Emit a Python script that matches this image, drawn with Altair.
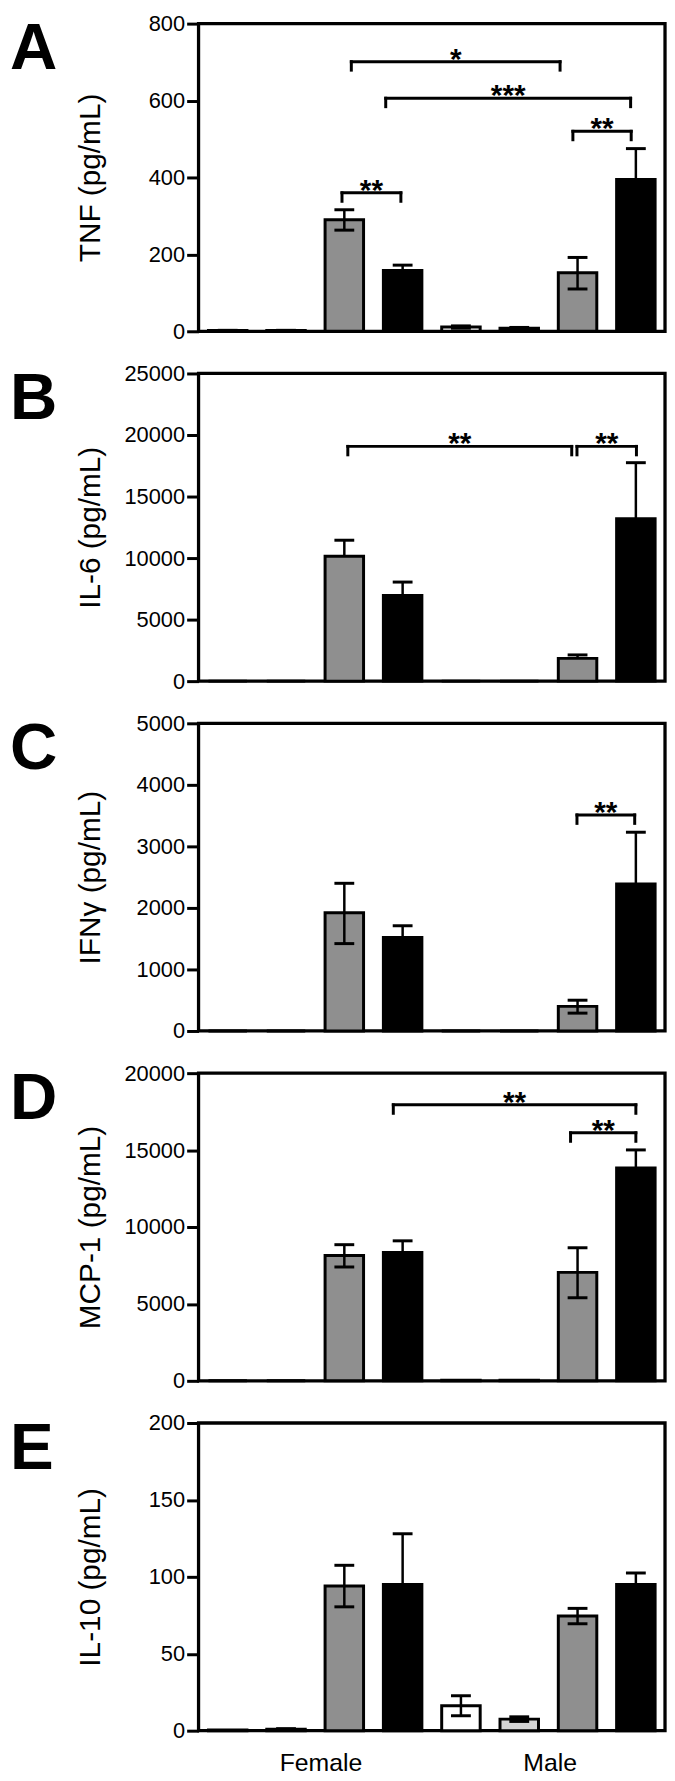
import altair as alt
import pandas as pd

# ---------------- data ----------------
positions = [0, 1, 2, 3, 4, 5, 6, 7]
groups = ["g1", "g2", "g3", "g4", "g1", "g2", "g3", "g4"]
group_colors = ["#ffffff", "#d4d4d4", "#8f8f8f", "#000000"]
sex_labels = ["Female", "Male"]
sex_label_pos = [1.6, 5.53]

panel_letters = ["A", "B", "C", "D", "E"]
y_titles = ["TNF (pg/mL)", "IL-6 (pg/mL)", "IFNγ (pg/mL)", "MCP-1 (pg/mL)", "IL-10 (pg/mL)"]
y_max = [800, 25000, 5000, 20000, 200]
y_step = [200, 5000, 1000, 5000, 50]

tnf_mean = [2, 2, 290, 158, 11, 8, 152, 395]
tnf_up = [0.5, 0.5, 26, 14, 3, 2, 40, 80]
tnf_down = [0.5, 0.5, 27, 14, 3, 2, 42, 80]

il6_mean = [0, 0, 10150, 6950, 0, 0, 1850, 13200]
il6_up = [0, 0, 1300, 1100, 0, 0, 280, 4550]
il6_down = [0, 0, 0, 0, 0, 0, 0, 0]

ifng_mean = [0, 0, 1920, 1520, 0, 0, 400, 2390]
ifng_up = [0, 0, 480, 190, 0, 0, 100, 840]
ifng_down = [0, 0, 500, 190, 0, 0, 110, 840]

mcp1_mean = [0, 0, 8150, 8340, 40, 40, 7050, 13830]
mcp1_up = [0, 0, 700, 760, 0, 0, 1600, 1180]
mcp1_down = [0, 0, 750, 760, 0, 0, 1650, 1180]

il10_mean = [0.5, 1, 94, 95, 16.2, 7.5, 74.5, 95]
il10_up = [0, 0.3, 13.5, 33, 6.5, 1.5, 5, 7.5]
il10_down = [0, 0.3, 13.5, 33, 6.5, 1.5, 5, 7.5]

# significance brackets: start position, end position, height (data units), label
tnf_brackets = [(1.96, 2.97, 360, "**"), (2.12, 5.70, 701, "*"),
                (2.71, 6.91, 606, "***"), (5.92, 6.92, 520, "**")]
il6_brackets = [(2.06, 5.90, 19075, "**"), (5.99, 7.01, 19075, "**")]
ifng_brackets = [(5.99, 6.98, 3511, "**")]
mcp1_brackets = [(2.84, 7.0, 17940, "**"), (5.88, 7.0, 16120, "**")]
il10_brackets = []

means = [tnf_mean, il6_mean, ifng_mean, mcp1_mean, il10_mean]
ups = [tnf_up, il6_up, ifng_up, mcp1_up, il10_up]
downs = [tnf_down, il6_down, ifng_down, mcp1_down, il10_down]
brackets = [tnf_brackets, il6_brackets, ifng_brackets, mcp1_brackets, il10_brackets]

# ---------------- style ----------------
W, H = 470, 310
BAR_HALF = 0.33
CAP_HALF = 0.17
FONT = "Liberation Sans"

xscale = alt.Scale(domain=[-0.5, 7.5], nice=False, zero=False)


def make_panel(i):
    ymax = y_max[i]
    yscale = alt.Scale(domain=[0, ymax], nice=False, zero=True)
    yaxis = alt.Axis(
        values=list(range(0, ymax + 1, y_step[i])), format="d", grid=False,
        domain=False, ticks=True, tickSize=12, tickWidth=3, tickColor="black",
        labelFontSize=22, labelColor="black", labelPadding=2, labelFont=FONT,
        titleFontSize=30, titleFontWeight="normal", titleColor="black",
        titleFont=FONT, titleX=-100, titleY=H / 2, titleBaseline="alphabetic",
        titleAlign="center", titleAngle=-90,
    )

    def Y(field):
        return alt.Y(field, scale=yscale, axis=yaxis, title=y_titles[i])

    def X(field):
        return alt.X(field, scale=xscale, axis=None)

    bars = pd.DataFrame({"pos": positions, "grp": groups, "mean": means[i]})
    bars["x1"] = bars["pos"] - BAR_HALF
    bars["x2"] = bars["pos"] + BAR_HALF
    bars["lo"] = [m - d for m, d in zip(means[i], downs[i])]
    bars["hi"] = [m + u for m, u in zip(means[i], ups[i])]
    bars["c1"] = bars["pos"] - CAP_HALF
    bars["c2"] = bars["pos"] + CAP_HALF
    bars["has_up"] = [u > 0 for u in ups[i]]
    bars["has_down"] = [d > 0 for d in downs[i]]

    bar_layer = alt.Chart(bars).mark_bar(stroke="black", strokeWidth=3).encode(
        x=X("x1:Q"), x2="x2:Q", y=Y("mean:Q"), y2=alt.datum(0),
        color=alt.Color("grp:N", scale=alt.Scale(domain=["g1", "g2", "g3", "g4"],
                                                range=group_colors), legend=None),
    )

    up_df = bars[bars["has_up"]]
    down_df = bars[bars["has_down"]]
    err_up = alt.Chart(up_df).mark_rule(color="black", strokeWidth=2.5).encode(
        x=X("pos:Q"), y=Y("mean:Q"), y2="hi:Q")
    cap_up = alt.Chart(up_df).mark_rule(color="black", strokeWidth=3).encode(
        x=X("c1:Q"), x2="c2:Q", y=Y("hi:Q"))
    layers = [bar_layer, err_up, cap_up]
    if len(down_df):
        err_dn = alt.Chart(down_df).mark_rule(color="black", strokeWidth=2.5).encode(
            x=X("pos:Q"), y=Y("lo:Q"), y2="mean:Q")
        cap_dn = alt.Chart(down_df).mark_rule(color="black", strokeWidth=3).encode(
            x=X("c1:Q"), x2="c2:Q", y=Y("lo:Q"))
        layers += [err_dn, cap_dn]

    if brackets[i]:
        tick_len = ymax * 8.5 / H
        bdf = pd.DataFrame(brackets[i], columns=["b1", "b2", "by", "lab"])
        bdf["bt"] = bdf["by"] - tick_len
        bdf["bm"] = (bdf["b1"] + bdf["b2"]) / 2
        rule_kw = dict(color="black", strokeWidth=3, strokeCap="square")
        hline = alt.Chart(bdf).mark_rule(**rule_kw).encode(
            x=X("b1:Q"), x2="b2:Q", y=Y("by:Q"))
        lt = alt.Chart(bdf).mark_rule(**rule_kw).encode(
            x=X("b1:Q"), y=Y("by:Q"), y2="bt:Q")
        rt = alt.Chart(bdf).mark_rule(**rule_kw).encode(
            x=X("b2:Q"), y=Y("by:Q"), y2="bt:Q")
        stars = alt.Chart(bdf).mark_text(font=FONT, fontSize=30, fontWeight="bold",
                                         baseline="alphabetic", align="center", dy=7,
                                         color="black").encode(
            x=X("bm:Q"), y=Y("by:Q"), text="lab:N")
        layers += [hline, lt, rt, stars]

    letter = alt.Chart(pd.DataFrame({"t": [panel_letters[i]]})).mark_text(
        font=FONT, fontSize=66, fontWeight="bold", align="left",
        baseline="alphabetic", color="black").encode(
        text="t:N", x=alt.value(-190), y=alt.value(46))
    layers.append(letter)

    if i == 4:
        sdf = pd.DataFrame({"s": sex_labels, "p": sex_label_pos})
        sx = alt.Chart(sdf).mark_text(font=FONT, fontSize=25, align="center",
                                      baseline="alphabetic", color="black").encode(
            x=X("p:Q"), y=alt.value(H + 41), text="s:N")
        layers.append(sx)

    return alt.layer(*layers).properties(width=W, height=H)


panels = [make_panel(i) for i in range(5)]

chart = alt.vconcat(*panels, spacing=42.5, bounds="flush").properties(
    padding={"left": 0, "top": -4, "right": 0, "bottom": 0}
).configure(font=FONT).configure_view(stroke="black", strokeWidth=3.3)

chart.save("out.html", embed_options={"renderer": "svg", "actions": False})
